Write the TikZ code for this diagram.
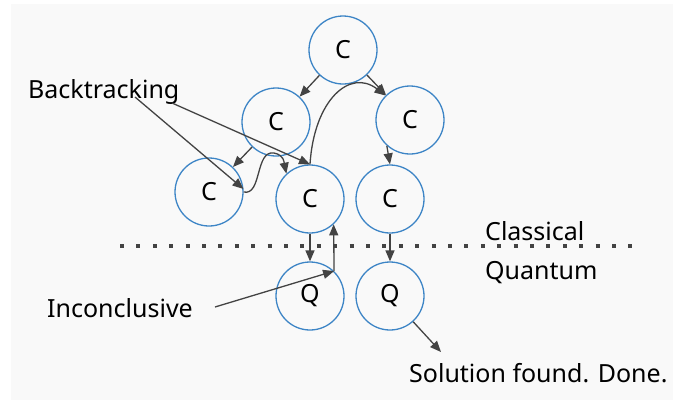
\documentclass[tikz,border=0pt]{standalone}
\usepackage{fontspec}
\setmainfont{Noto Sans}
\usetikzlibrary{arrows.meta}
\definecolor{bgpanel}{HTML}{F9F9F9}
\definecolor{ringblue}{HTML}{3D85C6}
\definecolor{arrowgray}{HTML}{434343}
\begin{document}
\begin{tikzpicture}[x=1pt,y=-1pt,
    state/.style={circle,draw=ringblue,line width=1.3pt,minimum size=68pt,inner sep=0pt,
      font=\fontsize{25}{30}\selectfont},
    label/.style={anchor=base west,inner sep=0pt,font=\fontsize{25}{30}\selectfont},
    arr/.style={draw=arrowgray,line width=1.3pt,-{Triangle[length=11pt,width=9pt]}},
    trail/.style={draw=arrowgray,line width=1.3pt}]
    \useasboundingbox (0,0) rectangle (673,400);
    \fill[white] (0,0) rectangle (673,400);
    \fill[bgpanel] (11,4) rectangle (673,400);

    \node[state] (t)  at (343,50)  {C};
    \node[state] (lm) at (276,122) {C};
    \node[state] (rm) at (410,120) {C};
    \node[state] (lb) at (209,192) {C};
    \node[state] (mc) at (310,199) {C};
    \node[state] (rc) at (390,199) {C};
    \node[state] (lq) at (310,296) {Q};
    \node[state] (rq) at (390,296) {Q};

    \draw[arrowgray,line width=4pt,dash pattern=on 4pt off 12.4pt] (120,246) -- (640,246);

    \node[label] (bt)  at (28,98)   {Backtracking};
    \node[label] (inc) at (47,317)  {Inconclusive};
    \node[label] (cl)  at (485,240) {Classical};
    \node[label] (qu)  at (485,279) {Quantum};
    \node[label] (sol) at (409,382) {Solution found. Done.};

    \coordinate (bk1) at (135,97);
    \coordinate (bk2) at (172,103);
    \coordinate (ic)  at (215,307);
    \coordinate (done) at (441,352);

    \draw[arr] (t) -- (lm);
    \draw[arr] (t) -- (rm);
    \draw[arr] (lm) -- (lb);
    \draw[arr] (rm.228) -- (rc.north);
    \draw[arr] (mc) -- (lq);
    \draw[arr] (rc) -- (rq);
    \draw[arr] (lb.east) .. controls (262,196) and (255,150) .. (274,153)
                         .. controls (284,155) and (284,162) .. (mc.133);
    \draw[arr] (mc.north) .. controls (314,100) and (350,68) .. (rm.135);
    \draw[arr] (bk1) -- (lb.5);
    \draw[arr] (bk2) -- (mc.north);
    \draw[arr] (ic) -- (lq.46);
    \draw[arr] (lq.46) -- (mc.-47);
    \draw[arr] (rq.-48) -- (done);
\end{tikzpicture}
\end{document}
